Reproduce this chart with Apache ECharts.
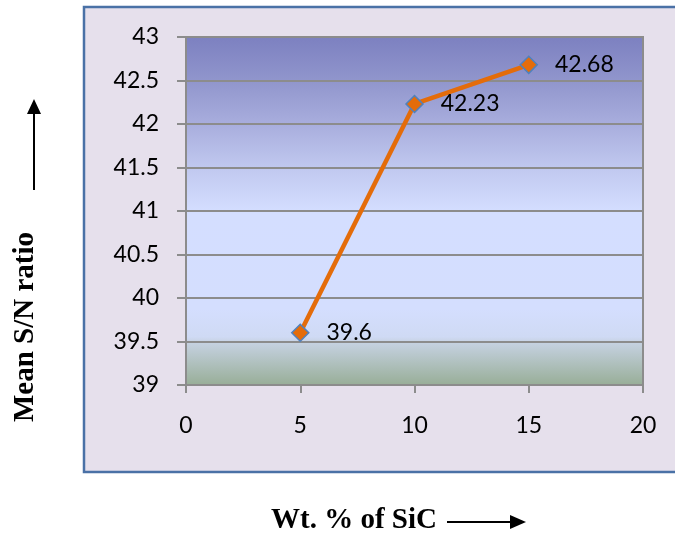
<!DOCTYPE html>
<html>
<head>
<meta charset="utf-8">
<script src="https://cdn.jsdelivr.net/npm/echarts@6/dist/echarts.min.js"></script>
<style>
html,body{margin:0;padding:0;background:#fff;}
#c{width:675px;height:537px;}
</style>
</head>
<body>
<div id="c"></div>
<script>
var xValues = [5, 10, 15];
var snValues = [39.6, 42.23, 42.68];
var yTitle = 'Mean S/N ratio';
var xTitle = 'Wt. % of SiC';

var chart = echarts.init(document.getElementById('c'), null, {renderer: 'canvas'});
var data = xValues.map(function (x, i) { return [x, snValues[i]]; });

var plotGradient = new echarts.graphic.LinearGradient(0, 0, 0, 1, [
  {offset: 0, color: '#7c80c0'},
  {offset: 0.125, color: '#9095cc'},
  {offset: 0.25, color: '#a8addd'},
  {offset: 0.375, color: '#c0c8ef'},
  {offset: 0.5, color: '#d4deff'},
  {offset: 0.78, color: '#d4defe'},
  {offset: 0.86, color: '#cfdaf4'},
  {offset: 0.875, color: '#c6d2e2'},
  {offset: 1, color: '#97ad96'}
]);

chart.setOption({
  backgroundColor: '#ffffff',
  animation: false,
  graphic: [
    {type: 'rect', z: -10, shape: {x: 84, y: 7, width: 600, height: 465},
     style: {fill: '#e6e0ec', stroke: '#4a71a6', lineWidth: 2.5}},
    {type: 'text', left: 11, top: 232, rotation: Math.PI / 2, style: {
      text: yTitle, font: 'bold 29px "Liberation Serif", "Times New Roman", serif', fill: '#000'}},
    {type: 'text', left: 271, top: 506, style: {
      text: xTitle, font: 'bold 29px "Liberation Serif", "Times New Roman", serif', fill: '#000'}},
    {type: 'line', shape: {x1: 34, y1: 190, x2: 34, y2: 112}, style: {stroke: '#000', lineWidth: 2}},
    {type: 'polygon', shape: {points: [[27, 114], [41, 114], [34, 99]]}, style: {fill: '#000'}},
    {type: 'line', shape: {x1: 447, y1: 522, x2: 512, y2: 522}, style: {stroke: '#000', lineWidth: 2}},
    {type: 'polygon', shape: {points: [[510, 515], [510, 529], [526, 522]]}, style: {fill: '#000'}}
  ],
  grid: {
    left: 186, top: 37, width: 457, height: 348,
    show: true, backgroundColor: plotGradient,
    borderColor: '#8c8c8c', borderWidth: 2
  },
  xAxis: {
    type: 'value', min: 0, max: 20, interval: 5,
    axisLine: {show: true, lineStyle: {color: '#8c8c8c', width: 2}},
    axisTick: {show: true, inside: false, length: 8, lineStyle: {color: '#8c8c8c', width: 2}},
    axisLabel: {margin: 29, color: '#000', fontSize: 23, fontFamily: 'Lato'},
    splitLine: {show: false}
  },
  yAxis: {
    type: 'value', min: 39, max: 43, interval: 0.5,
    axisLine: {show: true, lineStyle: {color: '#8c8c8c', width: 2}},
    axisTick: {show: true, inside: false, length: 9, lineStyle: {color: '#8c8c8c', width: 2}},
    axisLabel: {margin: 27, color: '#000', fontSize: 23, fontFamily: 'Lato'},
    splitLine: {show: true, lineStyle: {color: '#8c8c8c', width: 2}}
  },
  series: [{
    type: 'line',
    data: data,
    symbol: 'diamond',
    symbolSize: 17,
    lineStyle: {color: '#e46c0a', width: 4.5},
    itemStyle: {color: '#e46c0a', borderColor: '#4f81bd', borderWidth: 1.5},
    label: {show: true, position: 'right', distance: 17, color: '#000', fontSize: 23, fontFamily: 'Lato',
      formatter: function (p) { return String(p.value[1]); }},
    z: 5
  }]
});
</script>
</body>
</html>
